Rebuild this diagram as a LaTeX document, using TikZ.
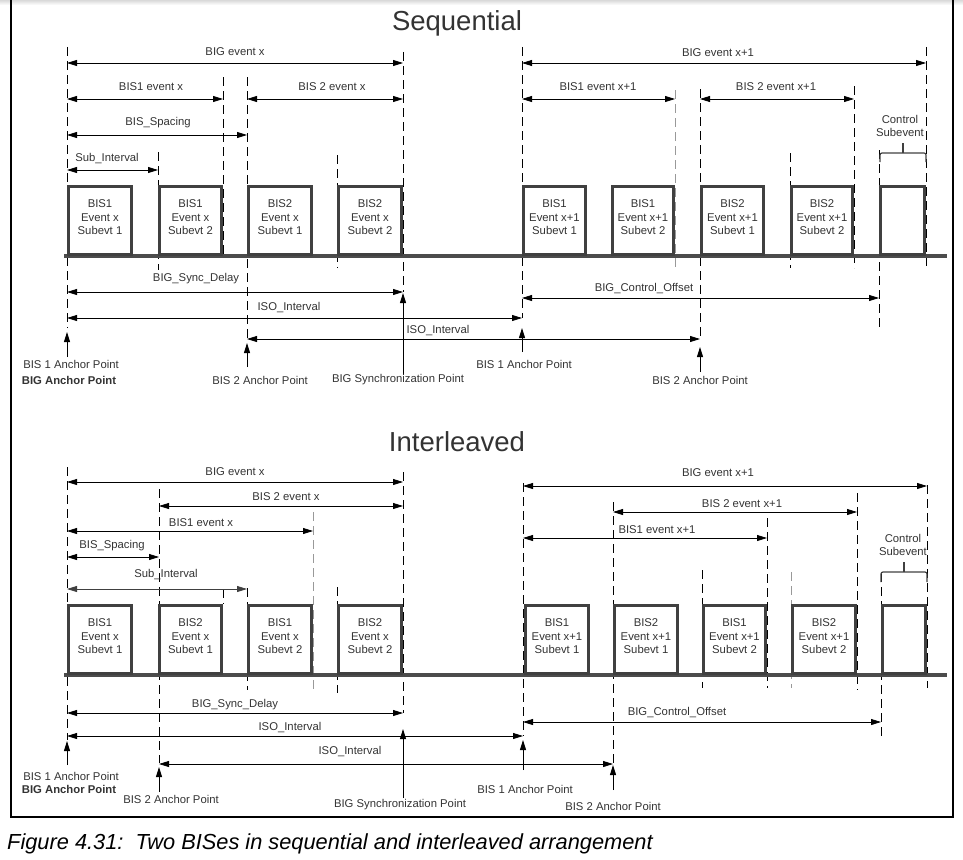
\documentclass[tikz,border=0pt]{standalone}
\usepackage{fontspec}
\setmainfont{Liberation Sans}
\usepackage{xcolor}
\usetikzlibrary{arrows.meta}
\definecolor{boxgray}{HTML}{404040}
\definecolor{txtgray}{HTML}{333333}

\tikzset{
  bisbox/.style={draw=boxgray, line width=3pt, anchor=south west, minimum height=68.5pt, inner sep=0pt},
  bistext/.style={text=txtgray, align=center, inner sep=0pt, font=\fontsize{11.3}{13.3}\selectfont},
  lbl/.style={text=txtgray, inner sep=0pt, font=\fontsize{11.3}{13}\selectfont},
  lblbold/.style={text=txtgray, inner sep=0pt, font=\fontsize{11.3}{13}\selectfont\bfseries},
  titletext/.style={text=txtgray, inner sep=0pt, font=\fontsize{27.5}{30}\selectfont},
  dimline/.style={{Triangle[length=10pt,width=6pt]}-{Triangle[length=10pt,width=6pt]}, line width=0.8pt},
  anchorup/.style={-{Triangle[length=10pt,width=6pt]}, line width=0.9pt},
  guide/.style={dash pattern=on 9pt off 5pt, line width=0.9pt},
  timeline/.style={draw=black!70, line width=3.2pt},
  bracket/.style={draw=boxgray, line width=1.2pt, rounded corners=2pt},
}

\begin{document}
\begin{tikzpicture}[x=1pt,y=-1pt]
\useasboundingbox (0,0) rectangle (963,859);
\shade[top color=black!15, bottom color=white] (0,0) rectangle (963,5);
\draw[line width=1.3pt] (11,0) -- (11,817) -- (953,817) -- (953,0);

\begin{scope}
\node[titletext] (seqtitle) at (457,23) {Sequential};

% guides
\draw[guide] (67,47) -- (67,328);
\draw[guide] (158,152) -- (158,270);
\draw[guide] (223,77) -- (223,256);
\draw[guide] (247,77) -- (247,338);
\draw[guide] (337,155) -- (337,268);
\draw[guide] (403,52) -- (403,292);
\draw[guide] (522,47) -- (522,318);
\draw[guide, black!40] (675,90) -- (675,268);
\draw[guide] (700,89) -- (700,340);
\draw[guide] (790,153) -- (790,268);
\draw[guide] (854,86) -- (854,268);
\draw[guide] (879,150) -- (879,328);
\draw[guide] (926,47) -- (926,268);

\draw[timeline] (64,256) -- (947,256);

\node[bisbox, minimum width=63pt] (sq1) at (67,256) {};
\node[bistext] (sq1t) at ([yshift=3pt]sq1.center) {BIS1\\Event x\\Subevt 1};
\node[bisbox, minimum width=62pt] (sq2) at (158,256) {};
\node[bistext] (sq2t) at ([yshift=3pt]sq2.center) {BIS1\\Event x\\Subevt 2};
\node[bisbox, minimum width=63pt] (sq3) at (247,256) {};
\node[bistext] (sq3t) at ([yshift=3pt]sq3.center) {BIS2\\Event x\\Subevt 1};
\node[bisbox, minimum width=63pt] (sq4) at (337,256) {};
\node[bistext] (sq4t) at ([yshift=3pt]sq4.center) {BIS2\\Event x\\Subevt 2};
\node[bisbox, minimum width=62pt] (sq5) at (522,256) {};
\node[bistext] (sq5t) at ([yshift=3pt]sq5.center) {BIS1\\Event x+1\\Subevt 1};
\node[bisbox, minimum width=61pt] (sq6) at (611,256) {};
\node[bistext] (sq6t) at ([yshift=3pt]sq6.center) {BIS1\\Event x+1\\Subevt 2};
\node[bisbox, minimum width=62pt] (sq7) at (700,256) {};
\node[bistext] (sq7t) at ([yshift=3pt]sq7.center) {BIS2\\Event x+1\\Subevt 1};
\node[bisbox, minimum width=61pt] (sq8) at (790,256) {};
\node[bistext] (sq8t) at ([yshift=3pt]sq8.center) {BIS2\\Event x+1\\Subevt 2};
\node[bisbox, minimum width=44pt] (sqc) at (879,256) {};

% spans above
\draw[dimline] (67,63) -- (403,63);
\node[lbl] (sbigx) at (235,52) {BIG event x};
\draw[dimline] (67,99) -- (223,99);
\node[lbl] (sbis1x) at (151,87) {BIS1 event x};
\draw[dimline] (247,99) -- (403,99);
\node[lbl] (sbis2x) at (332,87) {BIS 2 event x};
\draw[dimline] (67,135) -- (247,135);
\node[lbl] (sspace) at (158,123) {BIS\_Spacing};
\draw[dimline] (67,170) -- (158,170);
\node[lbl] (ssub) at (107,159) {Sub\_Interval};
\draw[dimline] (522,63) -- (926,63);
\node[lbl] (sbigx1) at (718,53) {BIG event x+1};
\draw[dimline] (522,99) -- (675,99);
\node[lbl] (sbis1x1) at (598,87) {BIS1 event x+1};
\draw[dimline] (700,99) -- (854,99);
\node[lbl] (sbis2x1) at (776,87) {BIS 2 event x+1};

\draw[bracket] (880,162) -- (880,153) -- (926,153) -- (926,162);
\draw[bracket] (903,153) -- (903,143);
\node[bistext] (sctrl) at (900,126) {Control\\Subevent};

% spans below
\draw[dimline] (67,292) -- (403,292);
\node[lbl] (ssync) at (196,279) {BIG\_Sync\_Delay};
\draw[dimline] (67,318) -- (522,318);
\node[lbl] (siso1) at (289,308) {ISO\_Interval};
\draw[dimline] (247,339) -- (700,339);
\node[lbl] (siso2) at (438,331) {ISO\_Interval};
\draw[dimline] (522,298) -- (879,298);
\node[lbl] (sctrloff) at (644,289) {BIG\_Control\_Offset};

% anchor points
\draw[anchorup] (67,357) -- (67,332);
\node[lbl] (sanc1) at (71,364) {BIS 1 Anchor Point};
\node[lblbold] (sbiganc) at (69,380) {BIG Anchor Point};
\draw[anchorup] (247,367) -- (247,343);
\node[lbl] (sanc2) at (260,380) {BIS 2 Anchor Point};
\draw[anchorup] (403,375) -- (403,293);
\node[lbl] (ssyncpt) at (398,380) {BIG Synchronization Point};
\draw[anchorup] (522,352) -- (522,328);
\node[lbl] (sanc1b) at (524,364) {BIS 1 Anchor Point};
\draw[anchorup] (700,372) -- (700,347);
\node[lbl] (sanc2b) at (700,380) {BIS 2 Anchor Point};
\end{scope}

\begin{scope}[yshift=-419pt]
\node[titletext] (inttitle) at (457,23) {Interleaved};

% guides
\draw[guide] (67,48) -- (67,321);
\draw[guide] (159,70) -- (159,344);
\draw[guide] (223,170) -- (223,185);
\draw[guide] (247,169) -- (247,271);
\draw[guide, black!40] (313,93) -- (313,271);
\draw[guide] (337,168) -- (337,274);
\draw[guide] (403,53) -- (403,294);
\draw[guide] (523,64) -- (523,317);
\draw[guide] (613,83) -- (613,346);
\draw[guide] (702,151) -- (702,269);
\draw[guide] (767,99) -- (767,269);
\draw[guide, black!40] (791,153) -- (791,269);
\draw[guide] (857,74) -- (857,271);
\draw[guide] (881,154) -- (881,321);
\draw[guide] (927,66) -- (927,269);

\draw[timeline] (64,256) -- (947,256);

\node[bisbox, minimum width=63pt] (il1) at (67,256) {};
\node[bistext] (il1t) at ([yshift=3pt]il1.center) {BIS1\\Event x\\Subevt 1};
\node[bisbox, minimum width=62pt] (il2) at (158,256) {};
\node[bistext] (il2t) at ([yshift=3pt]il2.center) {BIS2\\Event x\\Subevt 1};
\node[bisbox, minimum width=63pt] (il3) at (247,256) {};
\node[bistext] (il3t) at ([yshift=3pt]il3.center) {BIS1\\Event x\\Subevt 2};
\node[bisbox, minimum width=63pt] (il4) at (337,256) {};
\node[bistext] (il4t) at ([yshift=3pt]il4.center) {BIS2\\Event x\\Subevt 2};
\node[bisbox, minimum width=63pt] (il5) at (524,256) {};
\node[bistext] (il5t) at ([yshift=3pt]il5.center) {BIS1\\Event x+1\\Subevt 1};
\node[bisbox, minimum width=63pt] (il6) at (613,256) {};
\node[bistext] (il6t) at ([yshift=3pt]il6.center) {BIS2\\Event x+1\\Subevt 1};
\node[bisbox, minimum width=62pt] (il7) at (702,256) {};
\node[bistext] (il7t) at ([yshift=3pt]il7.center) {BIS1\\Event x+1\\Subevt 2};
\node[bisbox, minimum width=63pt] (il8) at (791,256) {};
\node[bistext] (il8t) at ([yshift=3pt]il8.center) {BIS2\\Event x+1\\Subevt 2};
\node[bisbox, minimum width=43pt] (ilc) at (881,256) {};

% spans above
\draw[dimline] (67,63) -- (403,63);
\node[lbl] (ibigx) at (235,53) {BIG event x};
\draw[dimline] (159,87) -- (403,87);
\node[lbl] (ibis2x) at (286,78) {BIS 2 event x};
\draw[dimline] (67,112) -- (313,112);
\node[lbl] (ibis1x) at (201,104) {BIS1 event x};
\draw[dimline] (67,138) -- (159,138);
\node[lbl] (ispace) at (112,127) {BIS\_Spacing};
\draw[dimline, black!75] (67,170) -- (247,170);
\node[lbl] (isub) at (166,156) {Sub\_Interval};
\draw[dimline] (523,67) -- (927,67);
\node[lbl] (ibigx1) at (718,54) {BIG event x+1};
\draw[dimline] (613,93) -- (857,93);
\node[lbl] (ibis2x1) at (742,85) {BIS 2 event x+1};
\draw[dimline] (523,119) -- (767,119);
\node[lbl] (ibis1x1) at (657,111) {BIS1 event x+1};

\draw[bracket] (881,163) -- (881,153) -- (927,153) -- (927,163);
\draw[bracket] (904,153) -- (904,143);
\node[bistext] (ictrl) at (903,126) {Control\\Subevent};

% spans below
\draw[dimline] (67,294) -- (403,294);
\node[lbl] (isync) at (235,286) {BIG\_Sync\_Delay};
\draw[dimline] (67,317) -- (523,317);
\node[lbl] (iiso1) at (290,309) {ISO\_Interval};
\draw[dimline] (159,345) -- (613,345);
\node[lbl] (iiso2) at (350,333) {ISO\_Interval};
\draw[dimline] (523,303) -- (881,303);
\node[lbl] (ictrloff) at (677,294) {BIG\_Control\_Offset};

% anchor points
\draw[anchorup] (67,346) -- (67,322);
\node[lbl] (ianc1) at (71,357) {BIS 1 Anchor Point};
\node[lblbold] (ibiganc) at (69,370) {BIG Anchor Point};
\draw[anchorup] (159,373) -- (159,348);
\node[lbl] (ianc2) at (171,380) {BIS 2 Anchor Point};
\draw[anchorup] (403,379) -- (403,310);
\node[lbl] (isyncpt) at (400,386) {BIG Synchronization Point};
\draw[anchorup] (523,351) -- (523,321);
\node[lbl] (ianc1b) at (525,370) {BIS 1 Anchor Point};
\draw[anchorup] (613,371) -- (613,346);
\node[lbl] (ianc2b) at (613,387) {BIS 2 Anchor Point};
\end{scope}

\node[anchor=west, inner sep=0pt, font=\fontsize{21.8}{24}\selectfont\itshape] (caption) at (7,844) {Figure 4.31:\ \ Two BISes in sequential and interleaved arrangement};
\end{tikzpicture}
\end{document}
